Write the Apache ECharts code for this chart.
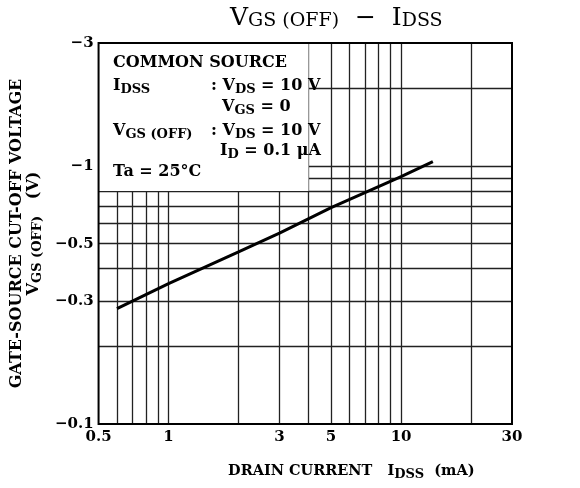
<!DOCTYPE html>
<html>
<head>
<meta charset="utf-8">
<script src="https://cdn.jsdelivr.net/npm/echarts@6/dist/echarts.min.js"></script>
<style>
  html, body { margin: 0; background: #fff; }
  #chart { width: 580px; height: 488px; }
</style>
</head>
<body>
<div id="chart"></div>
<script>
// IDSS (mA) vs |VGS(OFF)| (V)
const drainCurrent = [0.6, 1, 2, 3, 5, 10, 13.7];
const cutoffVoltage = [0.28, 0.35, 0.465, 0.55, 0.69, 0.91, 1.04];

const xTickLabels = [0.5, 1, 3, 5, 10, 30];
const yTickLabels = [0.1, 0.3, 0.5, 1, 3];
const xGridLines = [0.6, 0.7, 0.8, 0.9, 1, 2, 3, 4, 5, 6, 7, 8, 9, 10, 20];
const yGridLines = [0.2, 0.3, 0.4, 0.5, 0.6, 0.7, 0.8, 0.9, 1, 2];
// corners of the white box holding the test conditions
const conditionBox = [[0.5, 3], [4, 0.8]];

const serif = '"DejaVu Serif", serif';

function richSet(size, subSize, shift, weight = "bold") {
  return {
    b: { fontFamily: serif, fontWeight: weight, fontSize: size, color: "#000" },
    s: { fontFamily: serif, fontWeight: weight, fontSize: subSize, color: "#000", padding: [shift, 0, 0, 0] },
  };
}

const rich = richSet(16, 13, 8);

function textLine(text, left, top) {
  return { text, left, top, padding: 0, z: 10, textStyle: { rich } };
}

const conditionLines = [
  ["{b|COMMON SOURCE}", 113, 55],
  ["{b|I}{s|DSS}", 113, 75],
  ["{b|: V}{s|DS}{b| = 10 V}", 211, 75],
  ["{b|V}{s|GS}{b| = 0}", 222, 96],
  ["{b|V}{s|GS (OFF)}", 113, 120],
  ["{b|: V}{s|DS}{b| = 10 V}", 211, 120],
  ["{b|I}{s|D}{b| = 0.1 μA}", 220, 140],
  ["{b|Ta = 25°C}", 113, 164],
];

const chart = echarts.init(document.getElementById("chart"));

chart.setOption({
  animation: false,
  title: [
    {
      text: "{b|V}{s|GS (OFF)}{b|  −  I}{s|DSS}",
      left: 230,
      top: 6,
      padding: 0,
      z: 10,
      textStyle: { fontWeight: "normal", rich: richSet(25, 19, 6, "normal") },
    },
    ...conditionLines.map(([text, left, top]) => textLine(text, left, top)),
  ],
  grid: {
    left: 93,
    right: 68,
    top: 43,
    bottom: 64,
    show: true,
    borderColor: "#000",
    borderWidth: 2,
    z: 8,
  },
  xAxis: {
    type: "log",
    logBase: 10,
    min: 0.5,
    max: 30,
    axisLine: { show: false },
    axisTick: { show: false },
    splitLine: { show: false },
    axisLabel: {
      customValues: xTickLabels,
      formatter: (v) => String(+v.toPrecision(3)),
      margin: 6,
      fontFamily: serif,
      fontWeight: "bold",
      fontSize: 15,
      color: "#000",
    },
    name: "{b|DRAIN CURRENT   I}{s|DSS}{b|  (mA)}",
    nameLocation: "middle",
    nameGap: 37,
    nameTextStyle: { rich: richSet(14.5, 13, 7), padding: [0, 0, 0, 92] },
  },
  yAxis: {
    type: "log",
    logBase: 10,
    min: 0.1,
    max: 3,
    axisLine: { show: false },
    axisTick: { show: false },
    splitLine: { show: false },
    axisLabel: {
      customValues: yTickLabels,
      formatter: (v) => "−" + String(+v.toPrecision(3)),
      margin: 5,
      fontFamily: serif,
      fontWeight: "bold",
      fontSize: 15,
      color: "#000",
    },
    name: "{b|GATE-SOURCE CUT-OFF VOLTAGE}\n{b|V}{s|GS (OFF)}{b|   (V)}",
    nameLocation: "middle",
    nameRotate: 90,
    nameGap: 46,
    nameTextStyle: { rich, lineHeight: 17 },
  },
  series: [
    {
      type: "line",
      z: 1,
      data: [],
      markLine: {
        z: 2,
        silent: true,
        symbol: "none",
        label: { show: false },
        lineStyle: { color: "#222", width: 1.3, type: "solid" },
        data: [
          ...xGridLines.map((v) => ({ xAxis: v })),
          ...yGridLines.map((v) => ({ yAxis: v })),
        ],
      },
    },
    {
      type: "line",
      z: 2,
      data: [],
      markArea: {
        z: 6,
        silent: true,
        itemStyle: { color: "#fff", opacity: 1 },
        data: [[{ coord: conditionBox[0] }, { coord: conditionBox[1] }]],
      },
    },
    {
      type: "line",
      z: 4,
      data: drainCurrent.map((x, i) => [x, cutoffVoltage[i]]),
      showSymbol: false,
      lineStyle: { color: "#000", width: 3 },
    },
  ],
});
</script>
</body>
</html>
